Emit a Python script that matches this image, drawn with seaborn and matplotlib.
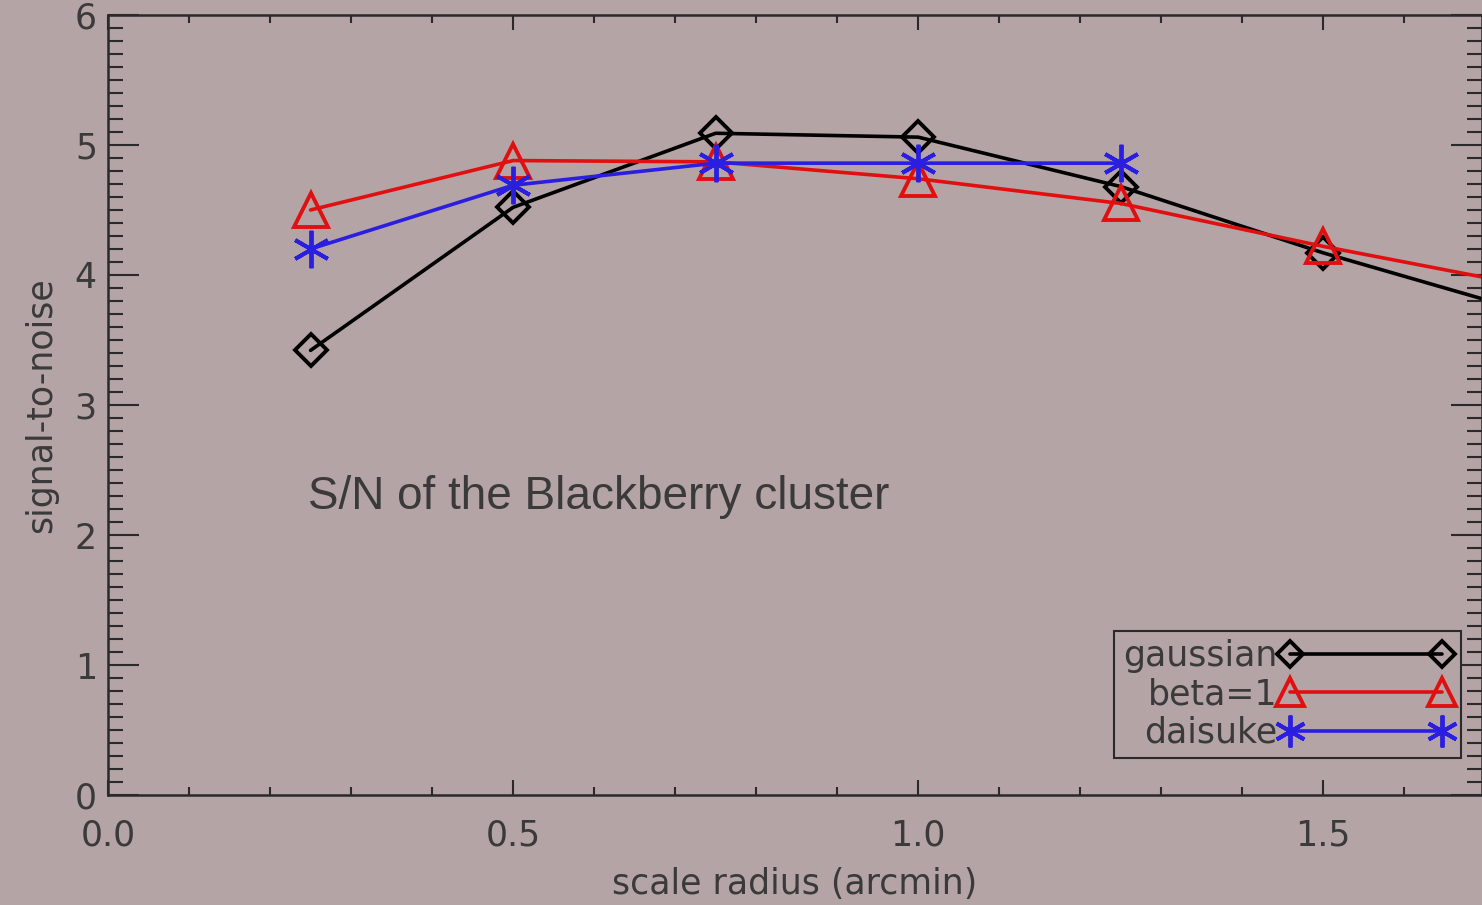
import matplotlib
matplotlib.use("Agg")
import matplotlib.pyplot as plt
import seaborn as sns
import pandas as pd
from matplotlib.ticker import MultipleLocator

# data
radius_gauss = [0.25, 0.5, 0.75, 1.0, 1.25, 1.5, 1.75]
sn_gauss = [3.42, 4.52, 5.09, 5.06, 4.68, 4.17, 3.72]
radius_beta = [0.25, 0.5, 0.75, 1.0, 1.25, 1.5, 1.75]
sn_beta = [4.50, 4.88, 4.87, 4.74, 4.55, 4.22, 3.92]
radius_dais = [0.25, 0.5, 0.75, 1.0, 1.25]
sn_dais = [4.20, 4.69, 4.86, 4.86, 4.86]

bg = '#b4a4a5'
ink = '#2a2a2a'
txt = '#3a3a3a'

sns.set_style('ticks')
plt.rcParams['font.family'] = ['DejaVu Sans']

fig = plt.figure(figsize=(14.82, 9.05), dpi=100, facecolor=bg)
ax = fig.add_axes([0.0729, 0.1215, 0.9271, 0.862])
ax.set_facecolor(bg)

series = [
    ('gaussian', radius_gauss, sn_gauss, 'black', 'D', 16),
    ('beta=1', radius_beta, sn_beta, '#e01010', '^', 24),
    ('daisuke', radius_dais, sn_dais, '#2a1ee0', (6, 2, 0), 27),
]
for name, xs, ys, col, mk, ms in series:
    df = pd.DataFrame({'x': xs, 'y': ys})
    sns.lineplot(data=df, x='x', y='y', ax=ax, color=col, lw=2.6,
                 marker=mk, markersize=ms, markerfacecolor='none',
                 markeredgecolor=col, markeredgewidth=2.8, label=name,
                 sort=False)

ax.set_xlim(0, 1.696)
ax.set_ylim(0, 6.0)
ax.xaxis.set_major_locator(MultipleLocator(0.5))
ax.xaxis.set_minor_locator(MultipleLocator(0.1))
ax.yaxis.set_major_locator(MultipleLocator(1))
ax.yaxis.set_minor_locator(MultipleLocator(0.1))
ax.xaxis.set_major_formatter(matplotlib.ticker.FormatStrFormatter('%.1f'))
ax.tick_params(which='both', direction='in', top=True, right=True, colors=ink,
               labelcolor=txt, labelsize=25, width=1.5)
ax.tick_params(axis='y', which='major', length=22, pad=8)
ax.tick_params(axis='y', which='minor', length=11)
ax.tick_params(axis='x', which='major', length=11, pad=17)
ax.tick_params(axis='x', which='minor', length=5.5)
for s in ax.spines.values():
    s.set_color(ink)
    s.set_linewidth(1.8)

ax.set_xlabel('scale radius (arcmin)', fontsize=25, color=txt, labelpad=10)
ax.set_ylabel('signal-to-noise', fontsize=25, color=txt, labelpad=12)

ax.text(0.247, 2.29, 'S/N of the Blackberry cluster', fontsize=33,
        family='Liberation Sans', color=txt, va='center', ha='left')

leg = ax.legend(loc='lower right', bbox_to_anchor=(0.985, 0.047), markerfirst=False,
                numpoints=2, fontsize=25, frameon=True, fancybox=False,
                handlelength=5.0, handletextpad=0.05, borderpad=0.25,
                labelspacing=0.12, borderaxespad=0, markerscale=0.85)
leg.get_frame().set_facecolor(bg)
leg.get_frame().set_edgecolor(ink)
leg.get_frame().set_linewidth(1.5)
leg.get_frame().set_alpha(1)
for t in leg.get_texts():
    t.set_color(txt)

fig.savefig('out.png', dpi=100, facecolor=bg)
